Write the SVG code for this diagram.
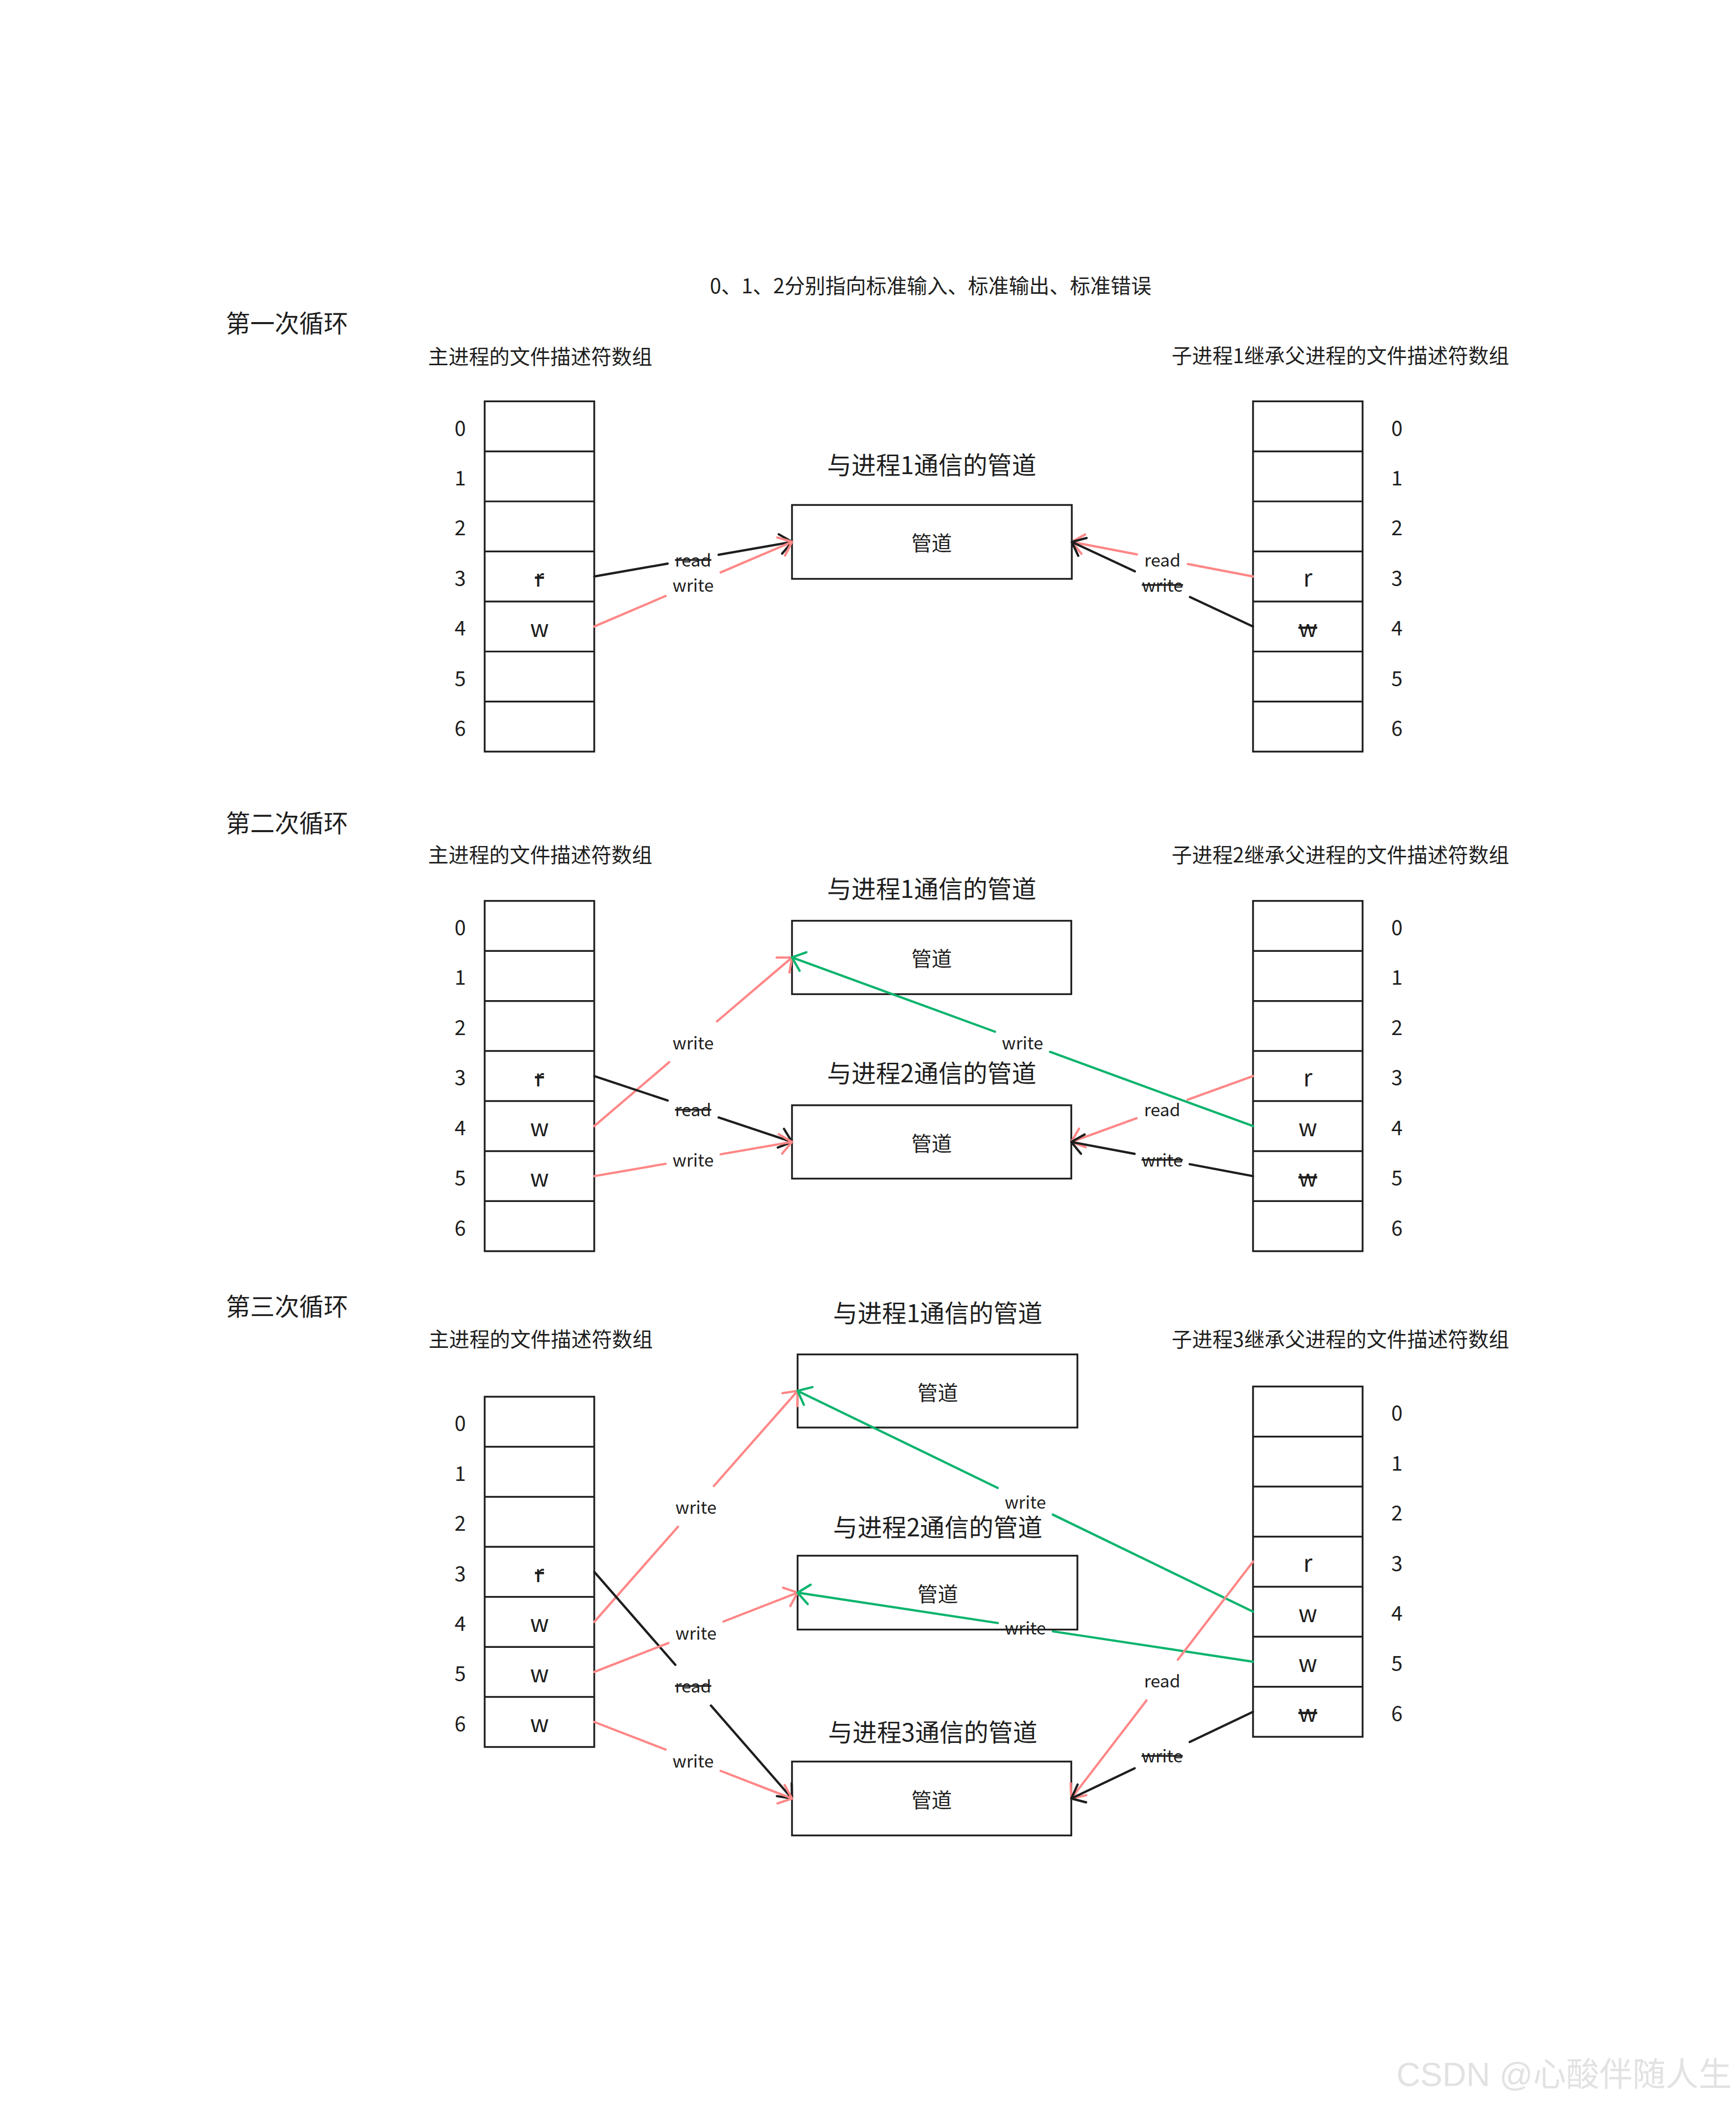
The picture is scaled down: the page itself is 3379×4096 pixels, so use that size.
<svg xmlns="http://www.w3.org/2000/svg" xmlns:xlink="http://www.w3.org/1999/xlink" width="3379" height="4096" viewBox="0 0 3379 4096">
<style>
text{font-family:"Noto Sans CJK SC","Noto Sans",sans-serif;fill:#1e1e1e;dominant-baseline:central}
.h1{font-size:48px}
.h2{font-size:40px}
.pt{font-size:48px;text-anchor:middle}
.pn{font-size:40px;text-anchor:middle}
.ix{font-size:40px;text-anchor:middle}
.cl{font-size:46px;text-anchor:middle}
.lb{font-size:34px;text-anchor:middle}
.st{text-decoration:line-through}
.box{fill:#fff;stroke:#1e1e1e;stroke-width:3.5}
.ln{stroke:#1e1e1e;stroke-width:3.5}
.c{fill:none;stroke-width:4.5;stroke-linecap:round}
.k{stroke:#1e1e1e}
.p{stroke:#ff8787}
.g{stroke:#0cb46e}
.wm{font-family:"Liberation Sans","Noto Sans CJK SC",sans-serif;font-size:65px;fill:#e2e2e2;text-anchor:end;dominant-baseline:alphabetic}
</style>
<defs>
<g id="grid">
<rect class="box" x="0" y="0" width="215" height="687.4"/>
<line class="ln" x1="0" y1="98.2" x2="215" y2="98.2"/>
<line class="ln" x1="0" y1="196.4" x2="215" y2="196.4"/>
<line class="ln" x1="0" y1="294.6" x2="215" y2="294.6"/>
<line class="ln" x1="0" y1="392.8" x2="215" y2="392.8"/>
<line class="ln" x1="0" y1="491" x2="215" y2="491"/>
<line class="ln" x1="0" y1="589.2" x2="215" y2="589.2"/>
</g>
<g id="idxL">
<text class="ix" x="-48" y="49.1">0</text>
<text class="ix" x="-48" y="147.3">1</text>
<text class="ix" x="-48" y="245.5">2</text>
<text class="ix" x="-48" y="343.7">3</text>
<text class="ix" x="-48" y="441.9">4</text>
<text class="ix" x="-48" y="540.1">5</text>
<text class="ix" x="-48" y="638.3">6</text>
</g>
<g id="idxR">
<text class="ix" x="282.4" y="49.1">0</text>
<text class="ix" x="282.4" y="147.3">1</text>
<text class="ix" x="282.4" y="245.5">2</text>
<text class="ix" x="282.4" y="343.7">3</text>
<text class="ix" x="282.4" y="441.9">4</text>
<text class="ix" x="282.4" y="540.1">5</text>
<text class="ix" x="282.4" y="638.3">6</text>
</g>
<marker id="ak" markerUnits="userSpaceOnUse" markerWidth="60" markerHeight="60" refX="0" refY="0" orient="auto" overflow="visible"><path d="M-23,-19.3 L0,0 L-23,19.3" fill="none" stroke="#1e1e1e" stroke-width="4.5" stroke-linecap="round" stroke-linejoin="round"/></marker>
<marker id="ap" markerUnits="userSpaceOnUse" markerWidth="60" markerHeight="60" refX="0" refY="0" orient="auto" overflow="visible"><path d="M-23,-19.3 L0,0 L-23,19.3" fill="none" stroke="#ff8787" stroke-width="4.5" stroke-linecap="round" stroke-linejoin="round"/></marker>
<marker id="ag" markerUnits="userSpaceOnUse" markerWidth="60" markerHeight="60" refX="0" refY="0" orient="auto" overflow="visible"><path d="M-23,-19.3 L0,0 L-23,19.3" fill="none" stroke="#0cb46e" stroke-width="4.5" stroke-linecap="round" stroke-linejoin="round"/></marker>
</defs>
<rect x="0" y="0" width="3379" height="4096" fill="#fff"/>
<g transform="scale(0.992)">

<g id="titles">
<text class="h2" x="1826" y="558" text-anchor="middle">0、1、2分别指向标准输入、标准输出、标准错误</text>
<text class="h1" x="443" y="632">第一次循环</text>
<text class="h1" x="443" y="1612">第二次循环</text>
<text class="h1" x="443" y="2561">第三次循环</text>
</g>

<!-- Section 1 -->
<g id="s1-main">
<text class="h2" x="1060" y="697" text-anchor="middle">主进程的文件描述符数组</text>
<g transform="translate(951,787.6)">
<use href="#grid"/><use href="#idxL"/>
<text class="cl st" x="107.5" y="343.7">r</text>
<text class="cl" x="107.5" y="441.9">w</text>
</g>
</g>
<g id="s1-child1">
<text class="h2" x="2299" y="695">子进程1继承父进程的文件描述符数组</text>
<g transform="translate(2458.6,787.6)">
<use href="#grid"/><use href="#idxR"/>
<text class="cl" x="107.5" y="343.7">r</text>
<text class="cl st" x="107.5" y="441.9">w</text>
</g>
</g>
<g id="s1-pipe1">
<text class="pt" x="1828" y="910">与进程1通信的管道</text>
<rect class="box" x="1554" y="991" width="549" height="145"/>
<text class="pn" x="1828" y="1063">管道</text>
</g>

<!-- Section 2 -->
<g id="s2-main">
<text class="h2" x="1060" y="1675" text-anchor="middle">主进程的文件描述符数组</text>
<g transform="translate(951,1768)">
<use href="#grid"/><use href="#idxL"/>
<text class="cl st" x="107.5" y="343.7">r</text>
<text class="cl" x="107.5" y="441.9">w</text>
<text class="cl" x="107.5" y="540.1">w</text>
</g>
</g>
<g id="s2-child2">
<text class="h2" x="2299" y="1675">子进程2继承父进程的文件描述符数组</text>
<g transform="translate(2458.6,1768)">
<use href="#grid"/><use href="#idxR"/>
<text class="cl" x="107.5" y="343.7">r</text>
<text class="cl" x="107.5" y="441.9">w</text>
<text class="cl st" x="107.5" y="540.1">w</text>
</g>
</g>
<g id="s2-pipe1">
<text class="pt" x="1828" y="1741">与进程1通信的管道</text>
<rect class="box" x="1554" y="1807" width="548" height="144"/>
<text class="pn" x="1828" y="1879">管道</text>
</g>
<g id="s2-pipe2">
<text class="pt" x="1828" y="2103">与进程2通信的管道</text>
<rect class="box" x="1554" y="2169" width="548" height="144"/>
<text class="pn" x="1828" y="2241">管道</text>
</g>

<!-- Section 3 -->
<g id="s3-main">
<text class="h2" x="1061" y="2626" text-anchor="middle">主进程的文件描述符数组</text>
<g transform="translate(951,2741)">
<use href="#grid"/><use href="#idxL"/>
<text class="cl st" x="107.5" y="343.7">r</text>
<text class="cl" x="107.5" y="441.9">w</text>
<text class="cl" x="107.5" y="540.1">w</text>
<text class="cl" x="107.5" y="638.3">w</text>
</g>
</g>
<g id="s3-child3">
<text class="h2" x="2299" y="2626">子进程3继承父进程的文件描述符数组</text>
<g transform="translate(2458.6,2721)">
<use href="#grid"/><use href="#idxR"/>
<text class="cl" x="107.5" y="343.7">r</text>
<text class="cl" x="107.5" y="441.9">w</text>
<text class="cl" x="107.5" y="540.1">w</text>
<text class="cl st" x="107.5" y="638.3">w</text>
</g>
</g>
<g id="s3-pipe1">
<text class="pt" x="1840" y="2574">与进程1通信的管道</text>
<rect class="box" x="1565" y="2658" width="549" height="143.5"/>
<text class="pn" x="1840" y="2730">管道</text>
</g>
<g id="s3-pipe2">
<text class="pt" x="1840" y="2994">与进程2通信的管道</text>
<rect class="box" x="1565" y="3053" width="549" height="145"/>
<text class="pn" x="1840" y="3126">管道</text>
</g>
<g id="s3-pipe3">
<text class="pt" x="1830" y="3397">与进程3通信的管道</text>
<rect class="box" x="1554" y="3457" width="548" height="145"/>
<text class="pn" x="1828" y="3530">管道</text>
</g>

<g id="connectors">
<!-- S1 -->
<line class="c k" x1="1166" y1="1131.3" x2="1310" y2="1106.1"/><line class="c k" x1="1410" y1="1088.7" x2="1554" y2="1063.5" marker-end="url(#ak)"/>
<text class="lb st" x="1360" y="1097.4">read</text>
<line class="c p" x1="1166" y1="1229.5" x2="1306" y2="1169.6"/><line class="c p" x1="1414" y1="1123.4" x2="1554" y2="1063.5" marker-end="url(#ap)"/>
<text class="lb" x="1360" y="1146.5">write</text>
<line class="c p" x1="2458.6" y1="1131.3" x2="2330.8" y2="1106.9"/><line class="c p" x1="2230.8" y1="1087.9" x2="2103" y2="1063.5" marker-end="url(#ap)"/>
<text class="lb" x="2280.8" y="1097.4">read</text>
<line class="c k" x1="2458.6" y1="1229.5" x2="2334.8" y2="1171.7"/><line class="c k" x1="2226.8" y1="1121.3" x2="2103" y2="1063.5" marker-end="url(#ak)"/>
<text class="lb st" x="2280.8" y="1146.5">write</text>
<!-- S2 -->
<line class="c p" x1="1166" y1="2209.9" x2="1313.1" y2="2084.45"/><line class="c p" x1="1406.9" y1="2004.45" x2="1554" y2="1879" marker-end="url(#ap)"/>
<text class="lb" x="1360" y="2044.5">write</text>
<line class="c k" x1="1166" y1="2111.7" x2="1310" y2="2159.7"/><line class="c k" x1="1410" y1="2193" x2="1554" y2="2241" marker-end="url(#ak)"/>
<text class="lb st" x="1360" y="2176.4">read</text>
<line class="c p" x1="1166" y1="2308.1" x2="1306" y2="2283.9"/><line class="c p" x1="1414" y1="2265.2" x2="1554" y2="2241" marker-end="url(#ap)"/>
<text class="lb" x="1360" y="2274.6">write</text>
<line class="c g" x1="2458.6" y1="2209.9" x2="2060.3" y2="2064.2"/><line class="c g" x1="1952.3" y1="2024.7" x2="1554" y2="1879" marker-end="url(#ag)"/>
<text class="lb" x="2006.3" y="2044.5">write</text>
<line class="c p" x1="2458.6" y1="2111.7" x2="2330.3" y2="2158.2"/><line class="c p" x1="2230.3" y1="2194.5" x2="2102" y2="2241" marker-end="url(#ap)"/>
<text class="lb" x="2280.3" y="2176.4">read</text>
<line class="c k" x1="2458.6" y1="2308.1" x2="2334.3" y2="2284.7"/><line class="c k" x1="2226.3" y1="2264.4" x2="2102" y2="2241" marker-end="url(#ak)"/>
<text class="lb st" x="2280.3" y="2274.6">write</text>
<!-- S3 -->
<line class="c p" x1="1166" y1="3182.9" x2="1330.3" y2="2996.2"/><line class="c p" x1="1400.7" y1="2916.2" x2="1565" y2="2729.5" marker-end="url(#ap)"/>
<text class="lb" x="1365.5" y="2956.2">write</text>
<line class="c k" x1="1166" y1="3084.7" x2="1325.1" y2="3267.1"/><line class="c k" x1="1394.9" y1="3347.1" x2="1554" y2="3529.5" marker-end="url(#ak)"/>
<text class="lb st" x="1360" y="3307.1">read</text>
<line class="c p" x1="1166" y1="3281.1" x2="1311.5" y2="3224.35"/><line class="c p" x1="1419.5" y1="3182.25" x2="1565" y2="3125.5" marker-end="url(#ap)"/>
<text class="lb" x="1365.5" y="3203.3">write</text>
<line class="c p" x1="1166" y1="3379.3" x2="1306" y2="3433.5"/><line class="c p" x1="1414" y1="3475.3" x2="1554" y2="3529.5" marker-end="url(#ap)"/>
<text class="lb" x="1360" y="3454.4">write</text>
<line class="c g" x1="2458.6" y1="3162.9" x2="2065.8" y2="2972.4"/><line class="c g" x1="1957.8" y1="2920" x2="1565" y2="2729.5" marker-end="url(#ag)"/>
<text class="lb" x="2011.8" y="2946.2">write</text>
<line class="c g" x1="2458.6" y1="3261.1" x2="2065.8" y2="3201.5"/><line class="c g" x1="1957.8" y1="3185.1" x2="1565" y2="3125.5" marker-end="url(#ag)"/>
<text class="lb" x="2011.8" y="3193.3">write</text>
<line class="c p" x1="2458.6" y1="3064.7" x2="2311" y2="3257.1"/><line class="c p" x1="2249.6" y1="3337.1" x2="2102" y2="3529.5" marker-end="url(#ap)"/>
<text class="lb" x="2280.3" y="3297.1">read</text>
<line class="c k" x1="2458.6" y1="3359.3" x2="2334.3" y2="3418.6"/><line class="c k" x1="2226.3" y1="3470.2" x2="2102" y2="3529.5" marker-end="url(#ak)"/>
<text class="lb st" x="2280.3" y="3444.4">write</text>
</g>

<text class="wm" x="3398" y="4094">CSDN @心酸伴随人生</text>
</g>
</svg>
